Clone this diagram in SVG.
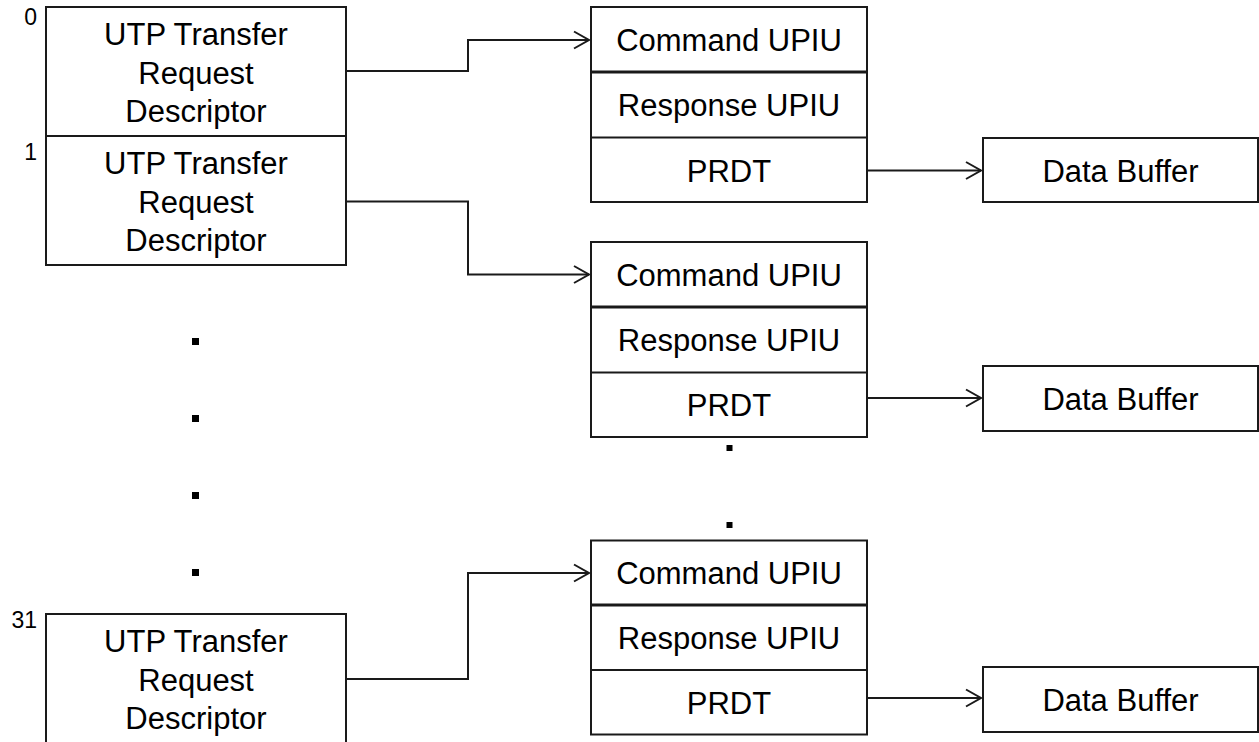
<svg xmlns="http://www.w3.org/2000/svg" width="1259" height="742" viewBox="0 0 1259 742">
  <style>
    .box { fill: #ffffff; stroke: #1a1a1a; stroke-width: 2; }
    .div { stroke: #1a1a1a; stroke-width: 2; }
    .divt { stroke: #1a1a1a; stroke-width: 3; }
    .t { font-family: "Liberation Sans", Arial, sans-serif; font-size: 31px; fill: #000; text-anchor: middle; }
    .n { font-family: "Liberation Sans", Arial, sans-serif; font-size: 23px; fill: #000; text-anchor: end; }
    .c { fill: none; stroke: #1a1a1a; stroke-width: 2; marker-end: url(#arr); }
    .dot { fill: #000; }
  </style>
  <defs>
    <marker id="arr" markerUnits="userSpaceOnUse" markerWidth="20" markerHeight="20" viewBox="-16 -10 18 20" refX="0" refY="0" orient="auto">
      <path d="M-15,-8.5 L0,0 L-15,8.5" fill="none" stroke="#1a1a1a" stroke-width="2"/>
    </marker>
  </defs>

  <rect width="1259" height="742" fill="#ffffff"/>

  <!-- Left descriptors -->
  <g id="utrd0">
    <rect class="box" x="46" y="7" width="300" height="129"/>
    <text class="n" x="37" y="25">0</text>
    <text class="t" x="196" y="45">UTP Transfer</text>
    <text class="t" x="196" y="83.5">Request</text>
    <text class="t" x="196" y="122">Descriptor</text>
  </g>
  <g id="utrd1">
    <rect class="box" x="46" y="136" width="300" height="129"/>
    <text class="n" x="37" y="160">1</text>
    <text class="t" x="196" y="174">UTP Transfer</text>
    <text class="t" x="196" y="212.5">Request</text>
    <text class="t" x="196" y="251">Descriptor</text>
  </g>
  <g id="utrd31">
    <rect class="box" x="46" y="614" width="300" height="140"/>
    <text class="n" x="37" y="628">31</text>
    <text class="t" x="196" y="652">UTP Transfer</text>
    <text class="t" x="196" y="690.5">Request</text>
    <text class="t" x="196" y="729">Descriptor</text>
  </g>

  <g id="leftdots">
    <rect class="dot" x="192" y="338" width="7" height="7"/>
    <rect class="dot" x="192" y="415" width="7" height="7"/>
    <rect class="dot" x="192" y="492" width="7" height="7"/>
    <rect class="dot" x="192" y="569" width="7" height="7"/>
  </g>

  <!-- UCD stacks -->
  <g id="ucd0">
    <rect class="box" x="591" y="7" width="276" height="195"/>
    <line class="divt" x1="591" y1="72" x2="867" y2="72"/>
    <line class="div" x1="591" y1="137.5" x2="867" y2="137.5"/>
    <text class="t" x="729" y="51">Command UPIU</text>
    <text class="t" x="729" y="116">Response UPIU</text>
    <text class="t" x="729" y="181.5">PRDT</text>
  </g>
  <g id="ucd1">
    <rect class="box" x="591" y="242" width="276" height="195"/>
    <line class="divt" x1="591" y1="307" x2="867" y2="307"/>
    <line class="div" x1="591" y1="372.5" x2="867" y2="372.5"/>
    <text class="t" x="729" y="286">Command UPIU</text>
    <text class="t" x="729" y="351">Response UPIU</text>
    <text class="t" x="729" y="416">PRDT</text>
  </g>
  <g id="ucd31">
    <rect class="box" x="591" y="540.5" width="276" height="194"/>
    <line class="divt" x1="591" y1="605" x2="867" y2="605"/>
    <line class="div" x1="591" y1="670" x2="867" y2="670"/>
    <text class="t" x="729" y="584">Command UPIU</text>
    <text class="t" x="729" y="649">Response UPIU</text>
    <text class="t" x="729" y="713.5">PRDT</text>
  </g>

  <g id="middots">
    <rect class="dot" x="726.5" y="445" width="6" height="6"/>
    <rect class="dot" x="726.5" y="522" width="6" height="6"/>
  </g>

  <!-- Data buffers -->
  <g id="buf0">
    <rect class="box" x="983" y="138" width="275" height="64"/>
    <text class="t" x="1120.5" y="181.5">Data Buffer</text>
  </g>
  <g id="buf1">
    <rect class="box" x="983" y="366" width="275" height="65"/>
    <text class="t" x="1120.5" y="410">Data Buffer</text>
  </g>
  <g id="buf31">
    <rect class="box" x="983" y="667" width="275" height="65"/>
    <text class="t" x="1120.5" y="711">Data Buffer</text>
  </g>

  <!-- Connectors -->
  <g id="connectors">
    <polyline class="c" points="346,71 468,71 468,40 589,40"/>
    <polyline class="c" points="346,201.5 468,201.5 468,274.5 589,274.5"/>
    <polyline class="c" points="346,679 468,679 468,573 589,573"/>
    <line class="c" x1="867" y1="170.5" x2="981" y2="170.5"/>
    <line class="c" x1="867" y1="398" x2="981" y2="398"/>
    <line class="c" x1="867" y1="698" x2="981" y2="698"/>
  </g>
</svg>
